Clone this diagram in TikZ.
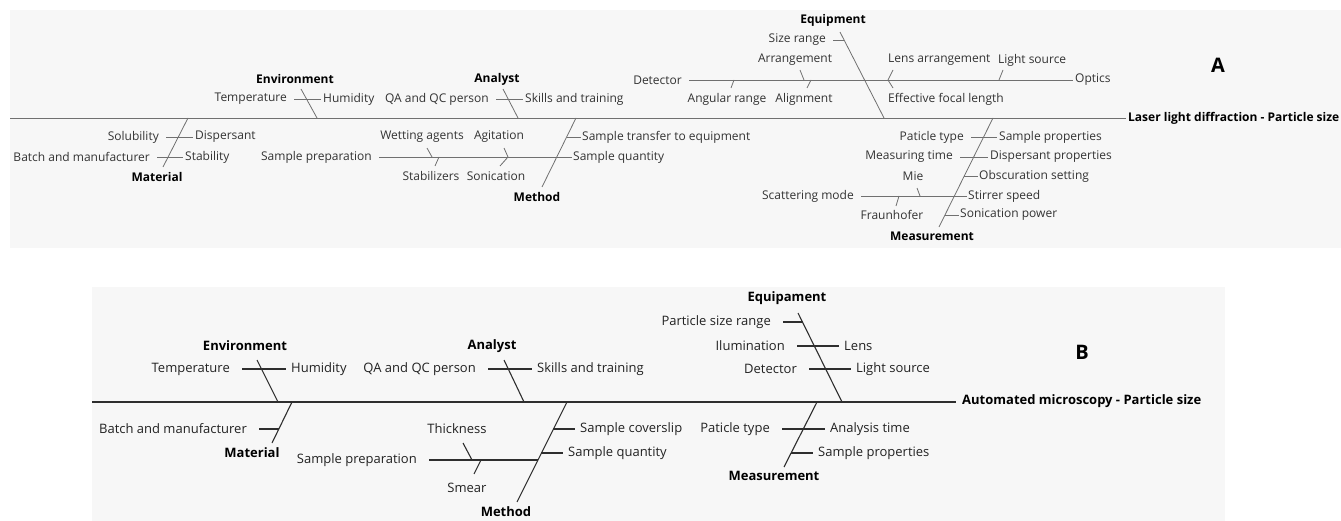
\documentclass[tikz,border=0pt]{standalone}
\usepackage{fontspec}
\setmainfont{Open Sans}
\definecolor{panel}{HTML}{F7F7F7}
\definecolor{lineA}{HTML}{707070}
\definecolor{txtA}{HTML}{333333}
\definecolor{lineB}{HTML}{2E2E2E}
\definecolor{txtB}{HTML}{222222}
\tikzset{
  lblA/.style={inner sep=0pt, text=txtA, font=\fontsize{12}{14}\selectfont},
  headA/.style={inner sep=0pt, text=black, font=\fontsize{12}{14}\selectfont\bfseries},
  lblB/.style={inner sep=0pt, text=txtB, font=\fontsize{13}{15}\selectfont},
  headB/.style={inner sep=0pt, text=black, font=\fontsize{13}{15}\selectfont\bfseries},
  boneA/.style={draw=lineA, line width=0.8pt},
  boneB/.style={draw=lineB, line width=1.1pt},
  subA/.style={boneA, shorten <=7pt, shorten >=2pt},
  subB/.style={boneB, shorten <=12pt, shorten >=5pt}
}
\begin{document}
\begin{tikzpicture}[x=1pt,y=-1pt]
\useasboundingbox (0,0) rectangle (1341,521);
\fill [panel] (10,10) rectangle (1341,248);
\fill [panel] (92,287) rectangle (1225,521);

%% A: laser light diffraction
\node (ttlA) at (1128,118) [headA, anchor=west] {Laser light diffraction - Particle size};
\node (lblA) at (1218,65) [inner sep=0pt, font=\fontsize{20}{22}\selectfont\bfseries] {A};
\draw [boneA] (10,118) -- ([xshift=-2]ttlA.west);

% environment
\node (envA) at (295,79) [headA] {Environment};
\draw [boneA] (301,89) -- (317,118);
\node (tmpA) at (287,99) [lblA, anchor=east] {Temperature};
\node (humA) at (323,99) [lblA, anchor=west] {Humidity};
\draw [subA] (tmpA.east) -- (humA.west);

% material
\node (matA) at (157,177) [headA] {Material};
\draw [boneA] (188,118) -- (163,167);
\node (solA) at (159,137) [lblA, anchor=east] {Solubility};
\node (dspA) at (195,137) [lblA, anchor=west] {Dispersant};
\draw [subA] (solA.east) -- (dspA.west);
\node (batA) at (150,157) [lblA, anchor=east] {Batch and manufacturer};
\node (stbA) at (185,157) [lblA, anchor=west] {Stability};
\draw [subA] (batA.east) -- (stbA.west);

% analyst
\node (anaA) at (497,79) [headA] {Analyst};
\draw [boneA] (503,89) -- (518,118);
\node (qaA) at (489,99) [lblA, anchor=east] {QA and QC person};
\node (sklA) at (525,99) [lblA, anchor=west] {Skills and training};
\draw [subA] (qaA.east) -- (sklA.west);

% method
\node (mtdA) at (537,197) [headA] {Method};
\draw [boneA] (576,118) -- (542,187);
\coordinate (trf) at (567,137);
\node (trfA) at (582,137) [lblA, anchor=west] {Sample transfer to equipment};
\draw [boneA, shorten >=1pt] (trf) -- (trfA.west);
\node (prpA) at (372,157) [lblA, anchor=east] {Sample preparation};
\node (qtyA) at (573,157) [lblA, anchor=west] {Sample quantity};
\draw [subA, shorten >=1pt] (prpA.east) -- (qtyA.west);
\node (wetA) at (422,137) [lblA] {Wetting agents};
\node (agiA) at (499,137) [lblA] {Agitation};
\node (stzA) at (431,176) [lblA] {Stabilizers};
\node (sonA) at (496,176) [lblA] {Sonication};
\draw [boneA] (427,148) -- (432,157);
\draw [boneA] (439,157) -- (435,166);
\draw [boneA] (504,148) -- (508,157) -- (500,166);

% equipment
\node (eqpA) at (833,20) [headA] {Equipment};
\draw [boneA] (840,32) -- (884,118);
\node (szA) at (826,40) [lblA, anchor=east] {Size range};
\coordinate (sz) at (844,40);
\draw [subA, shorten >=0pt] (szA.east) -- (sz);
\node (detA) at (682,80) [lblA, anchor=east] {Detector};
\node (optA) at (1075,80) [lblA, anchor=west] {Optics};
\draw [subA] (detA.east) -- (optA.west);
\node (angA) at (727,99) [lblA] {Angular range};
\node (arrA) at (795,60) [lblA] {Arrangement};
\node (alnA) at (804,99) [lblA] {Alignment};
\draw [boneA] (734,80) -- (731,88);
\draw [boneA] (800,70) -- (804,80);
\draw [boneA] (811,80) -- (807,88);
\node (lnsA) at (888,60) [lblA, anchor=west] {Lens arrangement};
\node (focA) at (888,99) [lblA, anchor=west] {Effective focal length};
\node (lgtA) at (998,60) [lblA, anchor=west] {Light source};
\draw [boneA] (893,70) -- (888,80) -- (893,88);
\draw [boneA] (1003,70) -- (999,80);

% measurement
\node (meaA) at (932,236) [headA] {Measurement};
\draw [boneA] (993,118) -- (939,227);
\node (ptyA) at (964,137) [lblA, anchor=east] {Paticle type};
\node (sprA) at (999,137) [lblA, anchor=west] {Sample properties};
\draw [subA] (ptyA.east) -- (sprA.west);
\node (mtmA) at (953,157) [lblA, anchor=east] {Measuring time};
\node (dprA) at (990,157) [lblA, anchor=west] {Dispersant properties};
\draw [subA] (mtmA.east) -- (dprA.west);
\coordinate (obs) at (964,176);
\node (obsA) at (979,176) [lblA, anchor=west] {Obscuration setting};
\draw [boneA, shorten >=1pt] (obs) -- (obsA.west);
\node (scaA) at (854,196) [lblA, anchor=east] {Scattering mode};
\node (stiA) at (968,196) [lblA, anchor=west] {Stirrer speed};
\draw [subA, shorten >=1pt] (scaA.east) -- (stiA.west);
\node (mieA) at (913,176) [lblA] {Mie};
\node (frhA) at (892,215) [lblA] {Fraunhofer};
\draw [boneA] (917,188) -- (920,196);
\draw [boneA] (899,196) -- (896,206);
\coordinate (snp) at (945,215);
\node (snpA) at (960,215) [lblA, anchor=west] {Sonication power};
\draw [boneA, shorten >=1pt] (snp) -- (snpA.west);

%% B: automated microscopy
\node (ttlB) at (962,401) [headB, anchor=west] {Automated microscopy - Particle size};
\node (lblB) at (1082,352) [inner sep=0pt, font=\fontsize{20}{22}\selectfont\bfseries] {B};
\draw [boneB] (92,402) -- ([xshift=-6]ttlB.west |- 0,402);

% environment
\node (envB) at (245,346) [headB] {Environment};
\draw [boneB] (257,360) -- (278,402);
\node (tmpB) at (230,369) [lblB, anchor=east] {Temperature};
\node (humB) at (291,369) [lblB, anchor=west] {Humidity};
\draw [subB] (tmpB.east) -- (humB.west);

% material
\node (matB) at (252,453) [headB] {Material};
\draw [boneB] (292,402) -- (272,443);
\node (batB) at (247,429) [lblB, anchor=east] {Batch and manufacturer};
\coordinate (bat) at (279,429);
\draw [subB, shorten >=0pt] (batB.east) -- (bat);

% analyst
\node (anaB) at (492,346) [headB] {Analyst};
\draw [boneB] (504,360) -- (524,402);
\node (qaB) at (476,369) [lblB, anchor=east] {QA and QC person};
\node (sklB) at (537,369) [lblB, anchor=west] {Skills and training};
\draw [subB] (qaB.east) -- (sklB.west);

% method
\node (mtdB) at (506,512) [headB] {Method};
\draw [boneB] (567,402) -- (517,502);
\coordinate (cov) at (553,429);
\node (covB) at (580,429) [lblB, anchor=west] {Sample coverslip};
\draw [boneB, shorten >=5pt] (cov) -- (covB.west);
\coordinate (qty) at (541,453);
\node (qtyB) at (568,453) [lblB, anchor=west] {Sample quantity};
\draw [boneB, shorten >=5pt] (qty) -- (qtyB.west);
\node (prpB) at (417,460) [lblB, anchor=east] {Sample preparation};
\coordinate (prp) at (538,460);
\draw [subB, shorten >=0pt] (prpB.east) -- (prp);
\node (thkB) at (457,429) [lblB] {Thickness};
\node (smrB) at (467,488) [lblB] {Smear};
\draw [boneB] (463,443) -- (472,460);
\draw [boneB] (481,460) -- (474,474);

% equipament
\node (eqpB) at (787,298) [headB] {Equipament};
\draw [boneB] (798,313) -- (842,402);
\node (szB) at (771,322) [lblB, anchor=east] {Particle size range};
\coordinate (sz) at (803,322);
\draw [subB, shorten >=0pt] (szB.east) -- (sz);
\node (illB) at (785,346) [lblB, anchor=east] {Ilumination};
\node (lnsB) at (844,346) [lblB, anchor=west] {Lens};
\draw [subB] (illB.east) -- (lnsB.west);
\node (detB) at (797,369) [lblB, anchor=east] {Detector};
\node (lgtB) at (856,369) [lblB, anchor=west] {Light source};
\draw [subB] (detB.east) -- (lgtB.west);

% measurement
\node (meaB) at (774,476) [headB] {Measurement};
\draw [boneB] (817,402) -- (784,467);
\node (ptyB) at (770,429) [lblB, anchor=east] {Paticle type};
\node (antB) at (830,429) [lblB, anchor=west] {Analysis time};
\draw [subB] (ptyB.east) -- (antB.west);
\coordinate (spr) at (791,453);
\node (sprB) at (818,453) [lblB, anchor=west] {Sample properties};
\draw [boneB, shorten >=5pt] (spr) -- (sprB.west);
\end{tikzpicture}
\end{document}
